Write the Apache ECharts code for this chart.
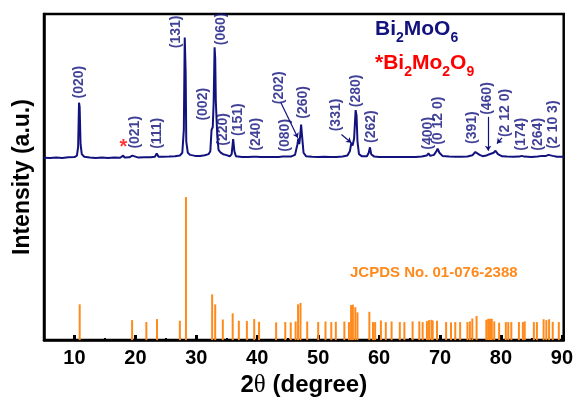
<!DOCTYPE html>
<html>
<head>
<meta charset="utf-8">
<script src="https://cdn.jsdelivr.net/npm/echarts@6/dist/echarts.min.js"></script>
<style>
  html, body { margin: 0; padding: 0; background: #fff; }
  #chart { width: 576px; height: 403px; }
</style>
</head>
<body>
<div id="chart"></div>
<script>
// measured XRD pattern of Bi2MoO6 (2theta, intensity a.u.)
var patternX = [5, 6, 7, 8, 9, 10, 10.4, 10.6, 10.75, 10.85, 11.0, 11.2, 11.6, 12.5, 13.5, 14.5, 15.5, 16.5, 17.5, 17.8, 18.0, 18.2, 19, 19.5, 19.8, 20.5, 21.5, 22.5, 23.2, 23.5, 23.8, 24.5, 25.5, 26.5, 27.3, 27.7, 27.95, 28.1, 28.25, 28.35, 28.6, 29, 29.8, 30.6, 31.4, 32.0, 32.3, 32.5, 32.7, 32.85, 33.0, 33.1, 33.2, 33.3, 33.45, 33.65, 34.0, 34.4, 34.8, 35.5, 35.8, 36.05, 36.25, 36.5, 37.5, 38.5, 39.3, 39.6, 39.9, 40.5, 41.5, 42.5, 43.5, 44.2, 44.5, 44.8, 45.6, 46.2, 46.6, 46.75, 46.9, 47.05, 47.2, 47.35, 47.6, 48, 49, 50, 51, 52, 53, 54, 54.8, 55.2, 55.45, 55.65, 55.9, 56.15, 56.3, 56.45, 56.7, 57.2, 58.0, 58.3, 58.5, 58.7, 59.2, 60, 61, 62, 63, 64, 65, 66, 67, 67.8, 68.1, 68.4, 69.0, 69.4, 69.6, 69.9, 70.4, 71.5, 72.5, 73.5, 74.5, 75.3, 75.8, 76.1, 76.5, 77.0, 77.6, 78.0, 78.3, 78.8, 79.1, 79.5, 80.2, 81, 82, 83, 83.4, 83.8, 85, 86, 86.8, 87.1, 87.4, 87.8, 88.1, 88.5, 89.2, 90.3];
var patternY = [0.5, 0.3, 0.6, 0.4, 0.8, 1, 2, 8, 39, 36, 10, 3, 1.2, 0.6, 0.4, 0.7, 0.4, 0.6, 0.5, 0.6, 2, 0.6, 0.8, 2, 0.8, 0.6, 0.8, 0.9, 1.2, 3.5, 1.2, 1.2, 1.3, 1.5, 2.0, 4, 20, 84.5, 60, 12, 4, 2.5, 1.8, 1.8, 2.2, 3, 5, 20, 22, 40, 77.7, 70, 40, 39, 15, 6, 4, 3, 2.5, 1.5, 3, 13.5, 5, 1.5, 1, 1, 1.2, 2.5, 1.2, 1, 1, 1.1, 1, 1.3, 2.5, 1.3, 1.4, 2.5, 10, 14, 10, 16, 23.6, 16, 4, 1.6, 1.2, 1.1, 1.2, 1, 1.1, 1.3, 2, 5, 11, 9, 14, 33.8, 30, 12, 3, 1.5, 1.5, 4, 7.8, 3, 1.3, 1.0, 1.1, 1.0, 1.1, 1.0, 1.1, 1.1, 1.3, 2, 3.5, 1.8, 2.5, 5, 6.8, 4, 1.8, 1.3, 1.2, 1.2, 1.4, 2.2, 4.5, 5.4, 2.5, 1.6, 2, 2.8, 2, 4, 5.4, 3, 1.5, 1.3, 1.2, 1.3, 1.8, 1.3, 1.1, 1.3, 1.8, 2.2, 1.8, 2.5, 3.4, 1.8, 1.2, 1.2];
var patternOffset = 127;

// JCPDS No. 01-076-2388 reference lines
var stickX = [10.86, 19.46, 21.8, 23.55, 27.3, 28.3, 32.6, 33.1, 34.35, 35.97, 36.98, 38.3, 39.5, 40.3, 43.1, 44.6, 45.5, 46.3, 46.7, 47.1, 48.2, 50.0, 51.2, 52.15, 52.9, 54.3, 55.05, 55.4, 55.7, 56.1, 56.45, 58.4, 59.0, 59.35, 60.3, 61.1, 62.05, 63.4, 64.15, 65.5, 66.6, 67.15, 67.85, 68.2, 68.6, 68.8, 69.5, 71.0, 71.8, 72.5, 73.3, 74.5, 74.9, 75.3, 76.0, 77.6, 77.9, 78.2, 78.5, 78.9, 79.7, 80.8, 81.2, 81.7, 82.95, 83.6, 83.9, 85.4, 85.9, 87.0, 87.45, 87.9, 88.5, 89.5];
var stickY = [25, 14, 12.6, 14.7, 13.5, 100, 32, 25, 14.4, 18.7, 13.5, 13.3, 14.7, 12.8, 12.4, 12.6, 12.4, 13, 25, 26, 13, 12.6, 13, 12.6, 12.8, 13, 12.6, 24.5, 24.8, 23, 19.4, 19.8, 12.6, 12.6, 13.7, 12.6, 13, 12.6, 12.6, 13.1, 13.1, 12.6, 13.3, 14, 14.2, 13.7, 13.5, 12.6, 12.4, 12.6, 12.6, 12.6, 13.1, 15.1, 16.9, 14.2, 14.9, 14.9, 14.9, 13.1, 12.2, 12.6, 12.6, 12.6, 12.6, 12.6, 13.1, 12.6, 12.6, 14.6, 14, 14.6, 12.8, 12.6];

// peak indices (hkl) and where their labels sit
var peakNames = ['(020)', '(021)', '(111)', '(131)', '(002)', '(060)', '(220)', '(151)', '(240)', '(080)', '(202)', '(260)', '(331)', '(280)', '(262)', '(400)', '(0 12 0)', '(391)', '(460)', '(2 12 0)', '(174)', '(264)', '(2 10 3)'];
var peakLabelX = [10.81, 19.89, 23.5, 26.66, 31.18, 34.08, 34.47, 36.89, 39.84, 44.52, 43.6, 47.53, 53.02, 56.24, 58.66, 68.06, 69.68, 75.32, 77.74, 80.69, 83.39, 86.08, 88.5];
var peakLabelY = [180.4, 145.3, 144.6, 215.5, 164.9, 217.6, 147.3, 154.1, 143.9, 143.2, 176.4, 166.2, 157.4, 174.3, 149.3, 144.6, 153.4, 148.6, 168.9, 158.8, 143.9, 143.9, 150.7];
var starX = 18.02, starY = 134.5;

// leader lines from label to peak
var pointers = [
	[[43.87, 166.2], [46.66, 141.4]],
	[[53.82, 143.7], [55.44, 138.0]],
	[[77.9, 156.1], [77.9, 132.4]],
	[[80.16, 141.4], [79.35, 137.4]]
];

var tickValues = [10, 20, 30, 40, 50, 60, 70, 80, 90];

var navy = '#12127e';
var orange = '#ff8a1c';
var font = 'Arial, "Liberation Sans", sans-serif';

var lineData = [];
for (var i = 0; i < patternX.length; i++) {
	lineData.push([patternX[i], patternY[i] + patternOffset]);
}
var stickData = [];
for (var i = 0; i < stickX.length; i++) {
	stickData.push([stickX[i], stickY[i]]);
}
var labelData = [];
for (var i = 0; i < peakNames.length; i++) {
	labelData.push({ value: [peakLabelX[i], peakLabelY[i]], name: peakNames[i] });
}
var lineMarks = [];
for (var i = 0; i < pointers.length; i++) {
	lineMarks.push([{ coord: pointers[i][0] }, { coord: pointers[i][1] }]);
}

function formula(parts, color) {
	// parts: text pieces, odd ones are subscripts
	var s = '';
	for (var i = 0; i < parts.length; i++) {
		s += (i % 2 == 0 ? '{m|' : '{s|') + parts[i] + '}';
	}
	return {
		text: s,
		rich: {
			m: { fontFamily: font, fontWeight: 'bold', fontSize: 21, lineHeight: 24, fill: color, verticalAlign: 'top' },
			s: { fontFamily: font, fontWeight: 'bold', fontSize: 14, lineHeight: 16, padding: [12, 0, 0, 0], fill: color, verticalAlign: 'top' }
		}
	};
}

var myChart = echarts.init(document.getElementById('chart'));

var option = {
	backgroundColor: '#fff',
	animation: false,
	grid: {
		left: 44,
		right: 3,
		top: 14,
		bottom: 52,
		show: true,
		borderColor: '#000',
		borderWidth: 2.5
	},
	xAxis: [
		{
			type: 'value',
			min: 5,
			max: 90.3,
			name: '2{t|θ} (degree)',
			nameLocation: 'middle',
			nameGap: 27,
			nameTextStyle: {
				fontFamily: font,
				fontWeight: 'bold',
				fontSize: 24,
				color: '#000',
				rich: {
					t: { fontFamily: '"Liberation Serif", serif', fontSize: 25, fontWeight: 'normal', color: '#000' }
				}
			},
			axisLine: { show: true, lineStyle: { color: '#000', width: 2.5 } },
			axisTick: { show: true, inside: true, length: 5, lineStyle: { color: '#000', width: 3 }, customValues: tickValues },
			axisLabel: {
				customValues: tickValues,
				fontFamily: font,
				fontWeight: 'bold',
				fontSize: 20,
				color: '#000',
				margin: 8
			},
			splitLine: { show: false }
		},
		{
			type: 'value',
			min: 5,
			max: 90.3,
			interval: 5,
			position: 'bottom',
			axisLine: { show: false },
			axisTick: { show: true, inside: true, length: 2, lineStyle: { color: '#000', width: 2 } },
			axisLabel: { show: false },
			splitLine: { show: false }
		}
	],
	yAxis: {
		type: 'value',
		min: 0,
		max: 228,
		name: 'Intensity (a.u.)',
		nameLocation: 'middle',
		nameGap: 10,
		nameTextStyle: {
			fontFamily: font,
			fontWeight: 'bold',
			fontSize: 23,
			color: '#000'
		},
		axisLine: { show: true, lineStyle: { color: '#000', width: 2.5 } },
		axisTick: { show: false },
		axisLabel: { show: false },
		splitLine: { show: false }
	},
	series: [
		{
			name: 'JCPDS',
			type: 'bar',
			data: stickData,
			barWidth: 2,
			itemStyle: { color: orange },
			z: 2
		},
		{
			name: 'Bi2MoO6',
			type: 'line',
			data: lineData,
			showSymbol: false,
			lineStyle: { color: navy, width: 2 },
			z: 3
		},
		{
			name: 'labels',
			type: 'scatter',
			data: labelData,
			symbolSize: 0,
			label: {
				show: true,
				position: 'inside',
				rotate: 90,
				formatter: '{b}',
				fontFamily: font,
				fontWeight: 'bold',
				fontSize: 14,
				color: navy
			},
			markLine: {
				silent: true,
				symbol: ['none', 'arrow'],
				symbolSize: 5,
				label: { show: false },
				lineStyle: { color: navy, width: 1.2, type: 'solid' },
				data: lineMarks
			},
			z: 4
		},
		{
			name: 'star',
			type: 'scatter',
			data: [{ value: [starX, starY], name: '*' }],
			symbolSize: 0,
			label: {
				show: true,
				position: 'inside',
				formatter: '{b}',
				fontFamily: font,
				fontWeight: 'bold',
				fontSize: 20,
				color: '#ff0000'
			},
			z: 4
		}
	],
	graphic: [
		{
			type: 'text',
			left: 375,
			top: 19,
			style: formula(['Bi', '2', 'MoO', '6'], navy)
		},
		{
			type: 'text',
			left: 375,
			top: 53,
			style: formula(['*Bi', '2', 'Mo', '2', 'O', '9'], '#ff0000')
		},
		{
			type: 'text',
			left: 350,
			top: 265,
			style: {
				text: 'JCPDS No. 01-076-2388',
				fontFamily: font,
				fontWeight: 'bold',
				fontSize: 15,
				fill: orange
			}
		}
	]
};

myChart.setOption(option);
</script>
</body>
</html>
